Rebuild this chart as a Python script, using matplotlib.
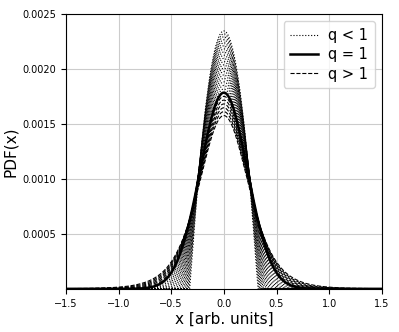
import matplotlib
matplotlib.use("Agg")
import matplotlib.pyplot as plt
import numpy as np

# q values of the curves and the common beta
q_below = [0.05, 0.1, 0.15, 0.2, 0.25, 0.3, 0.35, 0.4, 0.45, 0.5,
           0.55, 0.6, 0.65, 0.7, 0.75, 0.8, 0.85, 0.9, 0.95]
q_one = 1.0
q_above = [1.05, 1.1, 1.15, 1.2, 1.25, 1.3]
beta = 10.0
x_step = 0.001

x_ticks = [-1.5, -1.0, -0.5, 0.0, 0.5, 1.0, 1.5]
y_ticks = [0.0005, 0.0010, 0.0015, 0.0020, 0.0025]


def q_gauss(x, q, b):
    if q == 1.0:
        f = np.exp(-b * x**2)
    else:
        base = 1 - (1 - q) * b * x**2
        base = np.clip(base, 0, None)
        f = base ** (1 / (1 - q))
    return f / f.sum()


x = np.arange(-1.5, 1.5 + x_step / 2, x_step)

fig = plt.figure(figsize=(3.99, 3.32), dpi=100)
ax = fig.add_axes([0.165, 0.13, 0.792, 0.828])

for i, q in enumerate(q_below):
    ax.plot(x, q_gauss(x, q, beta), color="black", linestyle=":", lw=0.8,
            label="q < 1" if i == 0 else None)
ax.plot(x, q_gauss(x, q_one, beta), color="black", linestyle="-", lw=1.8,
        label="q = 1")
for i, q in enumerate(q_above):
    ax.plot(x, q_gauss(x, q, beta), color="black", linestyle="--", lw=0.8,
            label="q > 1" if i == 0 else None)

ax.set_xlim(-1.5, 1.5)
ax.set_ylim(0, 0.0025)
ax.set_xticks(x_ticks)
ax.set_yticks(y_ticks)
ax.tick_params(labelsize=7)
ax.grid(True, color="#cccccc", lw=0.8)
ax.set_axisbelow(True)
ax.set_xlabel("x [arb. units]", fontsize=11, labelpad=2)
ax.set_ylabel("PDF(x)", fontsize=11, labelpad=3)
ax.legend(loc="upper right", fontsize=10.5, handlelength=1.9,
          borderpad=0.45, labelspacing=0.3, handletextpad=0.7)

fig.savefig("out.png", dpi=100)
